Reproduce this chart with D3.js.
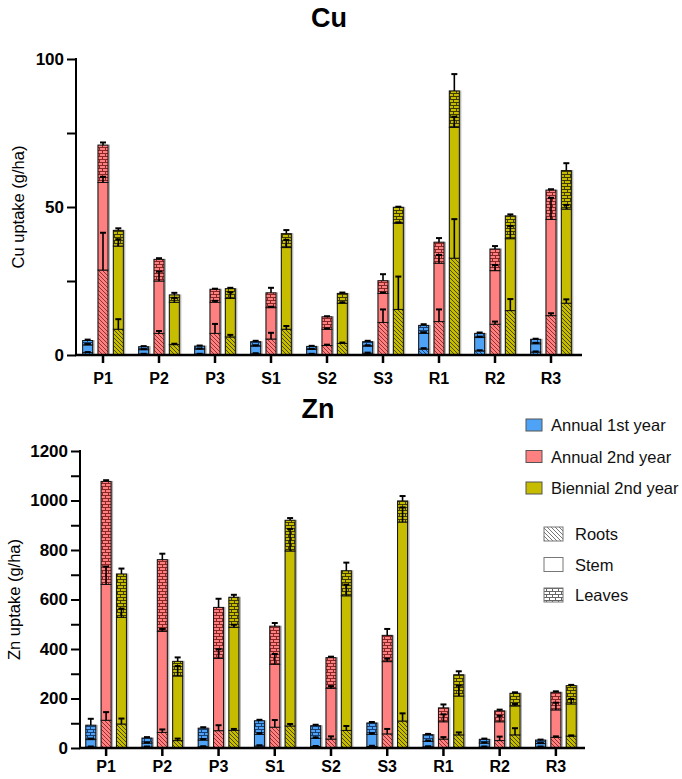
<!DOCTYPE html>
<html><head><meta charset="utf-8">
<script src="https://cdn.jsdelivr.net/npm/d3@7"></script>
<style>body{margin:0;background:#fff}svg{display:block;font-family:"Liberation Sans",Arial,sans-serif}</style>
</head><body><svg id="c" width="682" height="779"></svg>
<script>
const categories = ["P1","P2","P3","S1","S2","S3","R1","R2","R3"];
const seriesNames = ["Annual 1st year","Annual 2nd year","Biennial 2nd year"];
const partNames = ["Roots","Stem","Leaves"];

const cuTicks = [0,50,100];
const cuMinorTicks = [25,75];
const znTicks = [0,200,400,600,800,1000,1200];
const znMinorTicks = [100,300,500,700,900,1100];

// Cu (g/ha)
const cuA1Roots  = [0.8,0.3,0.3,0.4,0.3,0.6,2.0,1.4,1.0];
const cuA1Stem   = [2.6,1.5,1.7,2.6,1.6,2.4,5.3,4.5,2.8];
const cuA1Leaves = [1.5,1.0,1.0,1.5,1.0,1.5,2.7,1.4,1.5];
const cuA1RootsErr  = [0.2,0.1,0.1,0.2,0.1,0.2,0.3,0.2,0.2];
const cuA1StemErr   = [0.3,0.2,0.2,0.3,0.2,0.3,0.4,0.3,0.3];
const cuA1LeavesErr = [0.3,0.2,0.2,0.3,0.2,0.3,0.4,0.3,0.2];

const cuA2Roots  = [28.7,7.3,7.3,5.4,3.2,11.0,11.3,10.4,13.3];
const cuA2Stem   = [29.6,17.7,10.5,10.6,5.5,9.8,19.7,18.1,32.5];
const cuA2Leaves = [12.6,7.3,4.4,5.0,4.2,4.3,7.1,7.3,9.9];
const cuA2RootsErr  = [12.6,0.8,3.2,2.1,0.3,4.4,4.1,0.9,0.8];
const cuA2StemErr   = [1.9,3.2,0.5,0.3,0.3,0.3,2.8,1.9,7.3];
const cuA2LeavesErr = [0.9,0.4,0.2,1.7,0.2,2.2,1.4,1.0,0.3];

const cuB2Roots  = [8.7,3.5,6.1,8.7,3.9,15.4,32.7,15.0,17.5];
const cuB2Stem   = [28.1,14.3,13.0,27.6,13.6,29.1,44.2,24.3,31.8];
const cuB2Leaves = [5.3,2.5,3.3,4.7,3.3,5.4,12.3,7.7,13.0];
const cuB2RootsErr  = [3.4,0.3,0.7,1.1,0.3,11.1,13.2,3.9,1.3];
const cuB2StemErr   = [2.3,1.5,2.1,2.6,0.3,0.3,3.6,4.3,1.4];
const cuB2LeavesErr = [0.7,0.7,0.3,1.2,0.3,0.2,5.7,0.5,2.5];

// Zn (g/ha)
const znA1Roots  = [4,4,5,8,6,6,5,4,4];
const znA1Stem   = [30,16,27,47,33,49,22,16,14];
const znA1Leaves = [58,20,48,55,51,46,27,15,14];
const znA1RootsErr  = [2,2,2,3,2,3,2,2,2];
const znA1StemErr   = [4,2,4,5,4,5,3,2,2];
const znA1LeavesErr = [26,4,4,4,4,4,3,3,2];

const znA2Roots  = [112,63,70,84,36,57,36,30,43];
const znA2Stem   = [549,408,292,254,205,292,70,76,111];
const znA2Leaves = [416,290,206,154,124,106,56,44,71];
const znA2RootsErr  = [33,12,22,29,11,20,8,16,4];
const znA2StemErr   = [72,10,37,42,9,12,30,24,29];
const znA2LeavesErr = [5,24,35,13,4,26,14,5,4];

const znB2Roots  = [97,30,71,89,71,109,53,53,48];
const znB2Stem   = [431,261,417,707,544,804,157,117,130];
const znB2Leaves = [175,59,121,124,101,85,86,51,74];
const znB2RootsErr  = [22,8,6,8,18,31,10,27,3];
const znB2StemErr   = [35,40,10,89,45,59,42,8,20];
const znB2LeavesErr = [22,16,10,9,33,20,14,4,3];

const colors = ["#4fa3f7","#ff8080","#c6bd00"];
const darks  = ["#173f73","#8a2626","#403c00"];

const svg = d3.select("#c");
const defs = svg.append("defs");

function makePatterns(id, fill, dark){
  const h = defs.append("pattern").attr("id","hatch-"+id).attr("patternUnits","userSpaceOnUse")
    .attr("width",4).attr("height",4);
  h.append("rect").attr("width",4).attr("height",4).attr("fill",fill);
  h.append("path").attr("d","M-1,-1L5,5M3,-1L5,1M-1,3L1,5").attr("stroke",dark).attr("stroke-width",0.9);
  const b = defs.append("pattern").attr("id","brick-"+id).attr("patternUnits","userSpaceOnUse")
    .attr("width",6).attr("height",6);
  b.append("rect").attr("width",6).attr("height",6).attr("fill",fill);
  b.append("path").attr("d","M0,0.5H6M0,3.5H6M0.5,0.5V3.5M3.5,3.5V6.5").attr("stroke",dark).attr("stroke-width",1);
}
colors.forEach((c,i)=>makePatterns(i,c,darks[i]));
makePatterns("g","#ffffff","#666");

function build(r,s,l,re,se,le){
  return categories.map((c,i)=>({cat:c,parts:[r[i],s[i],l[i]],errs:[re[i],se[i],le[i]]}));
}

const cuData = [
  build(cuA1Roots,cuA1Stem,cuA1Leaves,cuA1RootsErr,cuA1StemErr,cuA1LeavesErr),
  build(cuA2Roots,cuA2Stem,cuA2Leaves,cuA2RootsErr,cuA2StemErr,cuA2LeavesErr),
  build(cuB2Roots,cuB2Stem,cuB2Leaves,cuB2RootsErr,cuB2StemErr,cuB2LeavesErr)
];
const znData = [
  build(znA1Roots,znA1Stem,znA1Leaves,znA1RootsErr,znA1StemErr,znA1LeavesErr),
  build(znA2Roots,znA2Stem,znA2Leaves,znA2RootsErr,znA2StemErr,znA2LeavesErr),
  build(znB2Roots,znB2Stem,znB2Leaves,znB2RootsErr,znB2StemErr,znB2LeavesErr)
];

function drawChart(o){
  const g = svg.append("g");
  const x = d3.scaleBand().domain(categories).range(o.xRange).padding(0);
  const xs = d3.scaleBand().domain(seriesNames).range([-23,23]).padding(0);
  const y = d3.scaleLinear().domain([0,o.max]).range([o.y0,o.y1]);
  const bw = 10;

  seriesNames.forEach((sn,si)=>{
    o.data[si].forEach(d=>{
      const cx = x(d.cat)+x.bandwidth()/2 + xs(sn)+xs.bandwidth()/2;
      let cum = 0;
      const total = d3.sum(d.parts);
      g.append("rect").attr("x",cx-bw/2-0.5).attr("y",y(total)-0.5).attr("width",bw+2.5)
        .attr("height",y(0)-y(total)+0.5).attr("fill","#b5b5b5");
      d.parts.forEach((v,pi)=>{
        const fill = pi===0 ? "url(#hatch-"+si+")" : pi===2 ? "url(#brick-"+si+")" : colors[si];
        g.append("rect").attr("x",cx-bw/2).attr("y",y(cum+v)).attr("width",bw)
          .attr("height",Math.max(0,y(cum)-y(cum+v))).attr("fill",fill)
          .attr("stroke","#111").attr("stroke-width",1);
        cum += v;
      });
    });
  });
  seriesNames.forEach((sn,si)=>{
    o.data[si].forEach(d=>{
      const cx = x(d.cat)+x.bandwidth()/2 + xs(sn)+xs.bandwidth()/2;
      let cum = 0;
      d.parts.forEach((v,pi)=>{
        cum += v;
        const e = d.errs[pi];
        g.append("line").attr("x1",cx).attr("x2",cx).attr("y1",y(cum)).attr("y2",y(cum+e))
          .attr("stroke","#000").attr("stroke-width",1.6);
        g.append("line").attr("x1",cx-3).attr("x2",cx+3).attr("y1",y(cum+e)).attr("y2",y(cum+e))
          .attr("stroke","#000").attr("stroke-width",2);
      });
    });
  });

  const yAxis = d3.axisLeft(y).tickValues(o.ticks).tickSize(9).tickPadding(3).tickFormat(d3.format("d"));
  const ya = g.append("g").attr("transform",`translate(${o.axisX},0)`).call(yAxis);
  ya.select(".domain").remove();
  ya.selectAll(".tick line").attr("stroke","#000").attr("stroke-width",2);
  ya.selectAll(".tick text").attr("font-size",17).attr("font-weight","bold").attr("fill","#000")
    .attr("font-family","Liberation Sans, Arial, sans-serif");
  const ym = g.append("g").attr("transform",`translate(${o.axisX},0)`)
    .call(d3.axisLeft(y).tickValues(o.minor).tickSize(9).tickFormat(""));
  ym.select(".domain").remove();
  ym.selectAll(".tick line").attr("stroke","#000").attr("stroke-width",2);
  g.append("line").attr("x1",o.axisX).attr("x2",o.axisX).attr("y1",y(0)+1).attr("y2",y(o.max)-1)
    .attr("stroke","#000").attr("stroke-width",2);

  const xa = g.append("g").attr("transform",`translate(0,${y(0)})`)
    .call(d3.axisBottom(x).tickSize(8).tickPadding(o.xPad));
  xa.select(".domain").remove();
  xa.selectAll(".tick line").attr("stroke","#000").attr("stroke-width",2.5);
  xa.selectAll(".tick text").attr("font-size",16).attr("font-weight","bold").attr("fill","#000")
    .attr("font-family","Liberation Sans, Arial, sans-serif");
  g.append("line").attr("x1",o.axisX-1).attr("x2",o.xEnd).attr("y1",y(0)).attr("y2",y(0))
    .attr("stroke","#000").attr("stroke-width",2.5);

  g.append("text").attr("x",o.titleX).attr("y",o.titleY).attr("text-anchor","middle")
    .attr("font-size",27).attr("font-weight","bold").text(o.title);
  g.append("text").attr("transform",`translate(${o.labelX},${(o.y0+o.y1)/2}) rotate(-90)`)
    .attr("text-anchor","middle").attr("font-size",16.5).text(o.ylabel);
}

drawChart({data:cuData,max:100,y0:355,y1:59,xRange:[75,579],axisX:76,xEnd:582,
  ticks:cuTicks,minor:cuMinorTicks,title:"Cu",titleX:329,titleY:27,ylabel:"Cu uptake (g/ha)",labelX:24,xPad:10});
drawChart({data:znData,max:1200,y0:748,y1:451,xRange:[78,584],axisX:80,xEnd:585,
  ticks:znTicks,minor:znMinorTicks,title:"Zn",titleX:318,titleY:418,ylabel:"Zn uptake (g/ha)",labelX:20,xPad:5});

const lg = svg.append("g");
seriesNames.forEach((s,i)=>{
  const yy = 425 + i*31.5;
  lg.append("rect").attr("x",526).attr("y",yy-6).attr("width",16).attr("height",12)
    .attr("fill",colors[i]).attr("stroke","#555").attr("stroke-width",1);
  lg.append("text").attr("x",551).attr("y",yy).attr("dominant-baseline","central")
    .attr("font-size",16.5).attr("fill","#111").text(s);
});
const pFills = ["url(#hatch-g)","#ffffff","url(#brick-g)"];
partNames.forEach((p,i)=>{
  const yy = 534 + i*30.5;
  lg.append("rect").attr("x",544).attr("y",yy-7).attr("width",19).attr("height",14)
    .attr("fill",pFills[i]).attr("stroke","#777").attr("stroke-width",1);
  lg.append("text").attr("x",575).attr("y",yy).attr("dominant-baseline","central")
    .attr("font-size",16.5).attr("fill","#111").text(p);
});
</script></body></html>
